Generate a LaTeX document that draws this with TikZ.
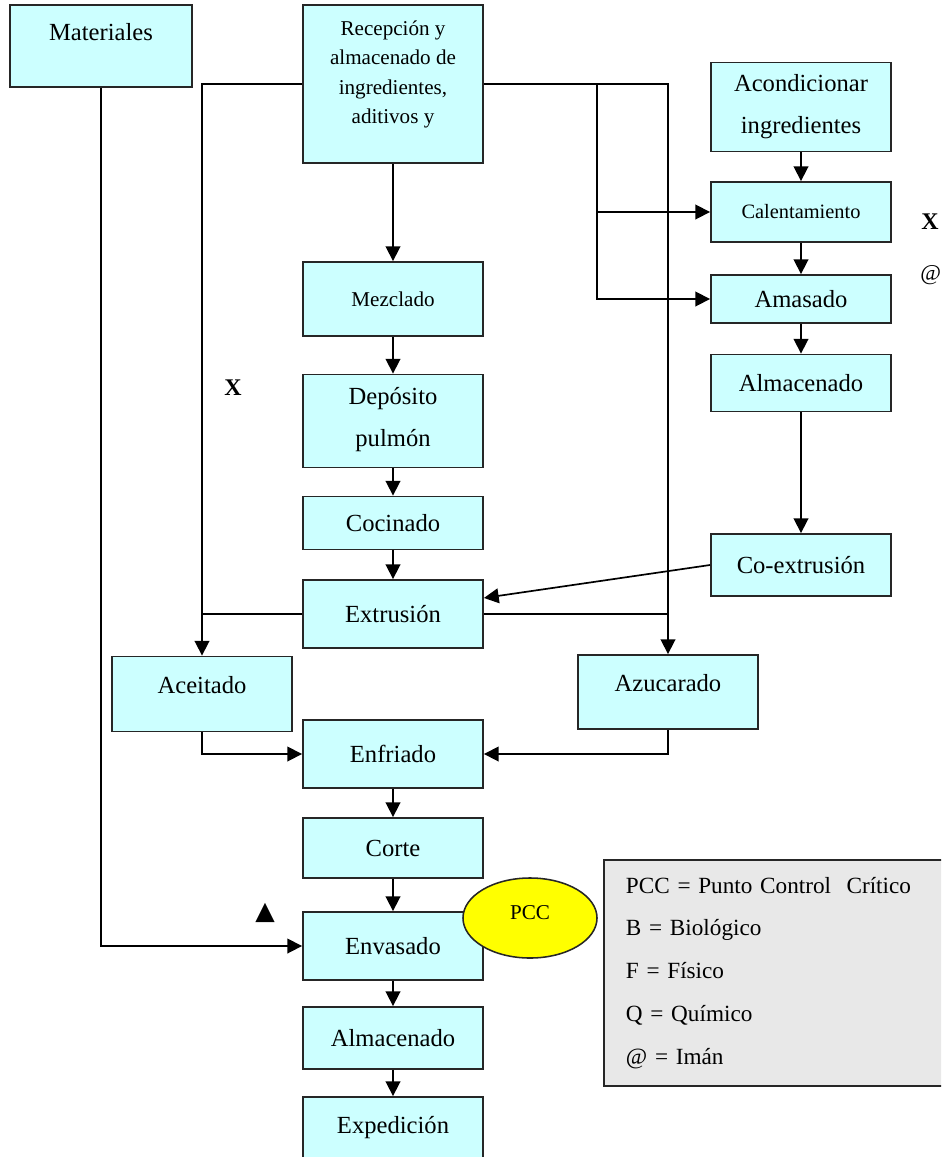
\documentclass[tikz,border=0pt]{standalone}
\usepackage{fontspec}
\setmainfont{Liberation Serif}
\newfontfamily\symfont{DejaVu Sans}
\usetikzlibrary{arrows.meta,positioning,shapes,calc}

\definecolor{boxcyan}{RGB}{204,255,255}
\definecolor{legendgray}{RGB}{232,232,232}
\definecolor{pccyellow}{RGB}{255,255,0}

% extra depth so that the text sits higher in its box
\newcommand{\liftby}[1]{\rule[-#1]{0pt}{0pt}}

\begin{document}
\begin{tikzpicture}[
    x=0.025cm, y=-0.025cm,
    proc/.style={rectangle, draw=black!85, line width=1.3pt, fill=boxcyan, minimum width=4.5cm, align=center, inner sep=2pt, font=\fontsize{17.5}{26}\selectfont},
    small/.style={font=\fontsize{15}{21}\selectfont},
    arrow/.style={-{Triangle[length=10.5pt,width=10.5pt]}, line width=1.2pt},
    line/.style={line width=1.2pt},
    xmark/.style={font=\bfseries\fontsize{17}{20}\selectfont}
]
\clip (0,0) rectangle (941,1157);

% Raw materials
\node[proc, minimum width=4.55cm, minimum height=2.05cm] (mat) at (101,46) {Materiales\liftby{20pt}};
\node[proc, small, minimum height=3.95cm] (recep) at (393,84) {Recepción y\\almacenado de\\ingredientes,\\aditivos y\liftby{17pt}};

% Right branch
\node[proc, minimum height=2.225cm] (acond) at (801,107) {Acondicionar\\[4pt]ingredientes};
\node[proc, font=\fontsize{14.5}{18}\selectfont, minimum height=1.5cm] (calent) at (801,212) {Calentamiento};
\node[proc, minimum height=1.2cm] (amas) at (801,299) {Amasado};
\node[proc, minimum height=1.425cm] (almac) at (801,383) {Almacenado};
\node[proc, minimum height=1.55cm] (coext) at (801,565) {Co-extrusión};

% Main line
\node[proc, small, minimum height=1.85cm] (mezcl) at (393,299) {Mezclado};
\node[proc, minimum height=2.325cm] (depos) at (393,421) {Depósito\\[4pt]pulmón\liftby{6pt}};
\node[proc, minimum height=1.325cm] (cocin) at (393,523) {Cocinado};
\node[proc, minimum height=1.7cm] (extru) at (393,614) {Extrusión};
\node[proc, minimum height=1.875cm] (aceit) at (202,694) {Aceitado\liftby{13pt}};
\node[proc, minimum height=1.85cm] (azuc) at (668,692) {Azucarado\liftby{13pt}};
\node[proc, minimum height=1.7cm] (enfr) at (393,754) {Enfriado};
\node[proc, minimum height=1.5cm] (corte) at (393,848) {Corte};
\node[proc, minimum height=1.7cm] (envas) at (393,946) {Envasado};
\node[proc, minimum height=1.55cm] (almacf) at (393,1038) {Almacenado};
\node[proc, minimum height=1.55cm] (exped) at (393,1128) {Expedición};

% Marks
\node[xmark] (xleft) at (233,388) {X};
\node[xmark, anchor=east, inner sep=0pt] (xright) at (939,222) {X};
\node[font=\fontsize{16}{20}\selectfont, anchor=west, inner sep=0pt] (atright) at (920,275) {@};
\node[font=\symfont\fontsize{18}{20}\selectfont] (tri) at (265,913) {▲};

% PCC and legend
\node[ellipse, draw=black!85, line width=1.1pt, fill=pccyellow, minimum width=3.35cm, minimum height=2cm, inner sep=0pt, font=\fontsize{15}{18}\selectfont] (pcc) at (530,918) {PCC\liftby{8pt}};
\node[rectangle, draw=black!85, line width=1.3pt, fill=legendgray, anchor=north west, minimum width=8.6cm, minimum height=5.65cm, text width=7.5cm, align=left, font=\fontsize{16.5}{30.5}\selectfont] (legend) at (603,859) {%
    PCC = Punto Control\ \ Crítico\\
    B = Biológico\\
    F = Físico\\
    Q = Químico\\
    @ = Imán};

% Connectors
\draw[arrow] (recep) -- (mezcl);
\draw[arrow] (mezcl) -- (depos);
\draw[arrow] (depos) -- (cocin);
\draw[arrow] (cocin) -- (extru);
\draw[arrow] (acond) -- (calent);
\draw[arrow] (calent) -- (amas);
\draw[arrow] (amas) -- (almac);
\draw[arrow] (almac) -- (coext);
\draw[arrow] (coext.west) -- (extru.10);

\draw[arrow] (recep.west) -| (aceit.north);
\draw[arrow] (recep.east) -| (azuc.north);
\coordinate (split) at (597,84);
\draw[arrow] (split) |- (amas.west);
\draw[arrow] (split |- calent.west) -- (calent.west);
\draw[line] (extru.west) -- (extru.west -| aceit.north);
\draw[line] (extru.east) -- (extru.east -| azuc.north);

\draw[arrow] (aceit.south) |- (enfr.west);
\draw[arrow] (azuc.south) |- (enfr.east);
\draw[arrow] (enfr) -- (corte);
\draw[arrow] (corte) -- (envas);
\draw[arrow] (mat.south) |- (envas.west);
\draw[arrow] (envas) -- (almacf);
\draw[arrow] (almacf) -- (exped);

\end{tikzpicture}
\end{document}
